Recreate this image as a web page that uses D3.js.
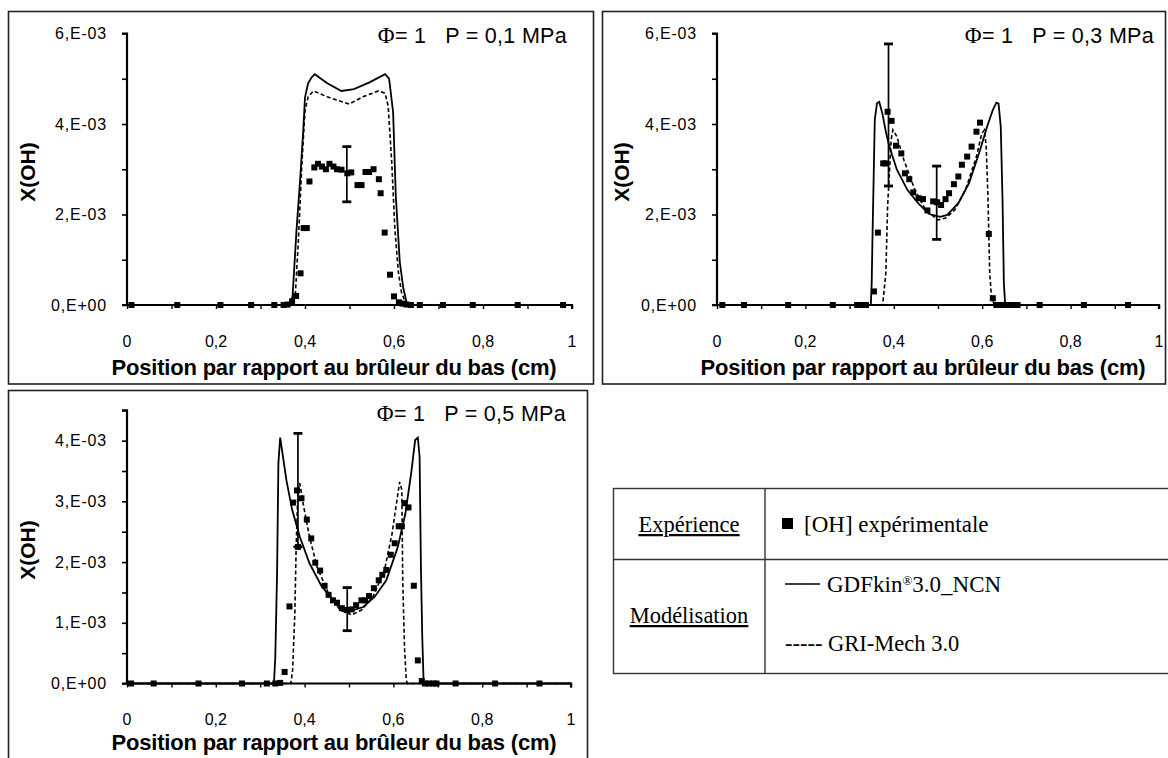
<!DOCTYPE html>
<html><head><meta charset="utf-8">
<script src="https://cdn.jsdelivr.net/npm/d3@7"></script>
<style>
body{margin:0;background:#fff;}
svg{display:block;}
text{font-family:"Liberation Sans",Arial,sans-serif;fill:#000;}
</style></head><body>
<svg id="c" width="1168" height="758"></svg>
<script>
// ---------- tick labels ----------
const xTickVals = [0,0.2,0.4,0.6,0.8,1];
const xTickLabels = ["0","0,2","0,4","0,6","0,8","1"];
const yTickValsA = [0,0.002,0.004,0.006];
const yTickLabelsA = ["0,E+00","2,E-03","4,E-03","6,E-03"];
const yTickValsB = [0,0.001,0.002,0.003,0.004];
const yTickLabelsB = ["0,E+00","1,E-03","2,E-03","3,E-03","4,E-03"];
const panelTitles = ["P = 0,1 MPa","P = 0,3 MPa","P = 0,5 MPa"];

// ---------- P = 0,1 MPa ----------
const exp01 = [[0.01,0],[0.113,0],[0.21,0],[0.279,0],[0.331,0],[0.352,0],[0.361,0.00001],[0.371,0.00008],[0.38,0.0002],[0.39,0.0007],[0.397,0.0017],[0.404,0.0017],[0.41,0.00273],[0.421,0.00304],[0.429,0.00312],[0.438,0.00306],[0.447,0.003],[0.455,0.00312],[0.464,0.00306],[0.472,0.003],[0.482,0.00299],[0.495,0.00291],[0.504,0.00293],[0.518,0.00265],[0.527,0.00265],[0.536,0.00294],[0.544,0.00294],[0.554,0.003],[0.566,0.00278],[0.57,0.00247],[0.579,0.0016],[0.591,0.00067],[0.6,0.00019],[0.611,0.00006],[0.619,0.00003],[0.628,0.00001],[0.638,0],[0.658,0],[0.71,0],[0.777,0],[0.878,0],[0.98,0]];
const gdf01 = [[0,0],[0.36,0],[0.366,0.00005],[0.372,0.00018],[0.381,0.00167],[0.389,0.00276],[0.396,0.00385],[0.4,0.00459],[0.407,0.0049],[0.415,0.00503],[0.422,0.0051],[0.45,0.0049],[0.482,0.00473],[0.51,0.00477],[0.545,0.00492],[0.58,0.0051],[0.589,0.005],[0.598,0.00426],[0.604,0.00242],[0.613,0.00095],[0.621,0.00037],[0.628,0.00007],[0.634,0],[1,0]];
const gri01 = [[0,0],[0.37,0],[0.378,0.00018],[0.385,0.0014],[0.393,0.00312],[0.4,0.0043],[0.407,0.0046],[0.419,0.00473],[0.45,0.0046],[0.499,0.00444],[0.53,0.0046],[0.565,0.00473],[0.58,0.00468],[0.587,0.00439],[0.595,0.00314],[0.602,0.00167],[0.61,0.00071],[0.617,0.00027],[0.625,0.00008],[0.632,0],[1,0]];
const err01 = [[0.494,0.00228,0.0035]];

// ---------- P = 0,3 MPa ----------
const exp03 = [[0.012,0],[0.061,0],[0.161,0],[0.262,0],[0.317,0],[0.327,0],[0.337,0],[0.355,0.0003],[0.364,0.0016],[0.376,0.00313],[0.382,0.00313],[0.386,0.00427],[0.395,0.00407],[0.405,0.00352],[0.417,0.00335],[0.425,0.00291],[0.435,0.00278],[0.444,0.00249],[0.456,0.00236],[0.466,0.00234],[0.476,0.00209],[0.489,0.00229],[0.498,0.00227],[0.507,0.00221],[0.517,0.00234],[0.525,0.00247],[0.536,0.00267],[0.546,0.00284],[0.554,0.0031],[0.566,0.00328],[0.576,0.0035],[0.587,0.00383],[0.595,0.00403],[0.615,0.00157],[0.624,0.00015],[0.632,0],[0.64,0],[0.648,0],[0.656,0],[0.665,0],[0.672,0],[0.68,0],[0.73,0],[0.83,0],[0.93,0]];
const gdf03 = [[0,0],[0.348,0],[0.35,0.00049],[0.352,0.0016],[0.354,0.0026],[0.357,0.0041],[0.362,0.00446],[0.367,0.00449],[0.374,0.00424],[0.382,0.00383],[0.39,0.0035],[0.407,0.00299],[0.431,0.00254],[0.456,0.00224],[0.48,0.00201],[0.505,0.00195],[0.521,0.00199],[0.546,0.00225],[0.57,0.00269],[0.595,0.00342],[0.611,0.00394],[0.624,0.00431],[0.632,0.00447],[0.637,0.00445],[0.642,0.00394],[0.646,0.00232],[0.649,0.00049],[0.652,0],[1,0]];
const gri03 = [[0,0],[0.374,0],[0.376,0.00012],[0.382,0.0007],[0.386,0.00218],[0.39,0.00291],[0.394,0.00365],[0.398,0.00387],[0.407,0.00372],[0.423,0.0032],[0.448,0.00254],[0.472,0.0021],[0.5,0.00188],[0.517,0.00192],[0.538,0.0021],[0.562,0.00254],[0.587,0.00328],[0.599,0.00379],[0.605,0.00387],[0.609,0.0035],[0.613,0.0024],[0.617,0.0007],[0.621,0.00019],[0.626,0.00004],[0.629,0],[1,0]];
const err03 = [[0.388,0.00263,0.00577],[0.497,0.00145,0.00307]];

// ---------- P = 0,5 MPa ----------
const exp05 = [[0.009,0],[0.06,0],[0.161,0],[0.259,0],[0.315,0],[0.334,0],[0.345,0.00001],[0.355,0.00019],[0.366,0.00127],[0.374,0.00298],[0.383,0.00318],[0.385,0.00225],[0.393,0.00305],[0.405,0.0027],[0.415,0.00239],[0.424,0.00199],[0.435,0.00186],[0.445,0.00161],[0.454,0.00146],[0.464,0.00137],[0.473,0.00133],[0.484,0.00124],[0.496,0.00121],[0.506,0.00122],[0.516,0.00129],[0.528,0.00137],[0.536,0.00137],[0.545,0.00144],[0.556,0.00157],[0.567,0.0017],[0.575,0.00179],[0.584,0.00187],[0.594,0.00212],[0.603,0.00231],[0.612,0.00259],[0.619,0.00259],[0.625,0.00297],[0.634,0.0029],[0.646,0.00161],[0.655,0.00038],[0.664,0.00004],[0.671,0],[0.68,0],[0.69,0],[0.697,0],[0.74,0],[0.829,0],[0.929,0]];
const gdf05 = [[0,0],[0.331,0],[0.334,0.00044],[0.338,0.00181],[0.341,0.00363],[0.345,0.00405],[0.348,0.0039],[0.359,0.00335],[0.372,0.00286],[0.389,0.00242],[0.411,0.00198],[0.437,0.00162],[0.463,0.00137],[0.489,0.00122],[0.506,0.0012],[0.532,0.00126],[0.558,0.00143],[0.584,0.0017],[0.61,0.00225],[0.627,0.0028],[0.64,0.00346],[0.649,0.00401],[0.655,0.00405],[0.659,0.00374],[0.662,0.00192],[0.665,0.00077],[0.668,0.00003],[0.67,0],[1,0]];
const gri05 = [[0,0],[0.369,0],[0.373,0.00022],[0.378,0.00115],[0.381,0.00225],[0.385,0.00319],[0.389,0.0033],[0.398,0.00291],[0.411,0.00242],[0.428,0.00192],[0.454,0.00148],[0.48,0.00121],[0.506,0.00113],[0.528,0.00121],[0.554,0.00143],[0.58,0.00187],[0.597,0.00247],[0.608,0.00302],[0.614,0.00332],[0.619,0.00319],[0.621,0.0017],[0.625,0.0006],[0.629,0.00005],[0.632,0],[1,0]];
const err05 = [[0.385,0.00225,0.00412],[0.496,0.00087,0.00158]];

// ---------- legend ----------
const legendHeads = ["Expérience","Modélisation"];
const legendItems = ["[OH] expérimentale","GDFkin","3.0_NCN","GRI-Mech 3.0"];

const svg = d3.select("#c");

// panel frames
const frames = [[8.5,11.5,585,372.5],[602.5,11.5,563,372.5],[8.5,390.5,579,380]];
svg.selectAll("rect.frame").data(frames).join("rect")
  .attr("x",d=>d[0]).attr("y",d=>d[1]).attr("width",d=>d[2]).attr("height",d=>d[3])
  .attr("fill","none").attr("stroke","#222").attr("stroke-width",1.6);

const panels = [
  {exp:exp01,gdf:gdf01,gri:gri01,err:err01,xr:[127,572],yr:[305,33.5],ymax:0.006,yT:yTickValsA,yL:yTickLabelsA,minor:0.001,title:panelTitles[0],ytitle:[28,172],xt:[334,375],cl:43},
  {exp:exp03,gdf:gdf03,gri:gri03,err:err03,xr:[717,1159],yr:[305,33.5],ymax:0.006,yT:yTickValsA,yL:yTickLabelsA,minor:0.001,title:panelTitles[1],ytitle:[622,172],xt:[923,375],cl:43},
  {exp:exp05,gdf:gdf05,gri:gri05,err:err05,xr:[127,571],yr:[683.5,410.3],ymax:0.0045,yT:yTickValsB,yL:yTickLabelsB,minor:0.0005,title:panelTitles[2],ytitle:[28,550],xt:[334,750],cl:421}
];

panels.forEach(p=>{
  const x = d3.scaleLinear().domain([0,1]).range(p.xr);
  const y = d3.scaleLinear().domain([0,p.ymax]).range(p.yr);
  const g = svg.append("g");

  // y axis (minor ticks every p.minor, labels on p.yT)
  const minorVals = d3.range(0,p.ymax+1e-9,p.minor);
  g.append("g").attr("transform",`translate(${p.xr[0]},0)`)
    .call(d3.axisLeft(y).tickValues(minorVals).tickSize(5).tickFormat(""))
    .call(a=>{a.select(".domain").attr("stroke-width",2.2).attr("d",`M-5,${p.yr[1]}H0V${p.yr[0]}`);a.selectAll("line").attr("stroke-width",1.6);});
  g.selectAll("text.yl").data(p.yT).join("text")
    .attr("x",p.xr[0]-20).attr("y",d=>y(d)+5.5).attr("text-anchor","end")
    .style("font-size","16px").style("letter-spacing","0.8px").text((d,i)=>p.yL[i]);

  // x axis
  g.append("g").attr("transform",`translate(0,${p.yr[0]})`)
    .call(d3.axisBottom(x).tickValues(d3.range(0,1.0001,0.1)).tickSize(4).tickFormat(""))
    .call(a=>{a.select(".domain").attr("stroke-width",2.2).attr("d",`M${p.xr[0]-5},0H${p.xr[1]}V4`);a.selectAll("line").attr("stroke-width",1.4);});
  g.selectAll("text.xl").data(xTickVals).join("text")
    .attr("x",d=>x(d)).attr("y",p.yr[0]+41.5).attr("text-anchor","middle")
    .style("font-size","16px").text((d,i)=>xTickLabels[i]);

  // titles
  g.append("text").attr("x",p.xt[0]).attr("y",p.xt[1]).attr("text-anchor","middle")
    .style("font-size","22px").style("font-weight","bold").style("letter-spacing","-0.2px")
    .text("Position par rapport au brûleur du bas (cm)");
  g.append("text").attr("transform",`translate(${p.ytitle[0]+7},${p.ytitle[1]}) rotate(-90)`)
    .attr("text-anchor","middle").style("font-size","21px").style("font-weight","bold").text("X(OH)");

  // condition label
  const t = g.append("text").attr("x",p.xr[1]-5).attr("y",p.cl).attr("text-anchor","end")
    .style("font-size","21.5px").style("letter-spacing","0.3px").attr("xml:space","preserve").style("white-space","pre");
  t.append("tspan").style("font-family","'Liberation Serif',serif").style("font-size","23px").text("Φ");
  t.append("tspan").text("= 1   "+p.title);

  // model curves
  const line = d3.line().x(d=>x(d[0])).y(d=>y(d[1]));
  g.append("path").attr("d",line(p.gdf)).attr("fill","none").attr("stroke","#000").attr("stroke-width",1.8);
  g.append("path").attr("d",line(p.gri)).attr("fill","none").attr("stroke","#000").attr("stroke-width",1.6).attr("stroke-dasharray","4,2.5");

  // error bars
  p.err.forEach(e=>{
    g.append("line").attr("x1",x(e[0])).attr("x2",x(e[0])).attr("y1",y(e[1])).attr("y2",y(e[2])).attr("stroke","#000").attr("stroke-width",1.7);
    [e[1],e[2]].forEach(v=>g.append("line").attr("x1",x(e[0])-4.5).attr("x2",x(e[0])+4.5).attr("y1",y(v)).attr("y2",y(v)).attr("stroke","#000").attr("stroke-width",2.8));
  });

  // experimental points
  g.selectAll("rect.pt").data(p.exp).join("rect")
    .attr("x",d=>x(d[0])-3).attr("y",d=>y(d[1])-3).attr("width",6).attr("height",6).attr("fill","#000");
});

// ---------- legend table ----------
const L = svg.append("g");
L.append("rect").attr("x",613.5).attr("y",488.5).attr("width",580).attr("height",185).attr("fill","none").attr("stroke","#333").attr("stroke-width",1.4);
L.append("line").attr("x1",765).attr("x2",765).attr("y1",488.5).attr("y2",673.5).attr("stroke","#333").attr("stroke-width",1.4);
L.append("line").attr("x1",613.5).attr("x2",1168).attr("y1",559.5).attr("y2",559.5).attr("stroke","#333").attr("stroke-width",1.4);
const sf = "'Liberation Serif','Times New Roman',serif";
L.append("text").attr("x",689).attr("y",532).attr("text-anchor","middle").style("font-family",sf).style("font-size","22.5px").style("text-decoration","underline").text(legendHeads[0]);
L.append("text").attr("x",689).attr("y",623).attr("text-anchor","middle").style("font-family",sf).style("font-size","22.5px").style("text-decoration","underline").text(legendHeads[1]);
L.append("rect").attr("x",782).attr("y",518).attr("width",11).attr("height",11).attr("fill","#000");
L.append("text").attr("x",804).attr("y",532).style("font-family",sf).style("font-size","23px").text(legendItems[0]);
L.append("line").attr("x1",785).attr("x2",820).attr("y1",584).attr("y2",584).attr("stroke","#000").attr("stroke-width",1.5);
const gt = L.append("text").attr("x",827).attr("y",592).style("font-family",sf).style("font-size","23px");
gt.append("tspan").text(legendItems[1]);
gt.append("tspan").attr("dy",-7).style("font-size","13px").text("®");
gt.append("tspan").attr("dy",7).text(legendItems[2]);
L.append("text").attr("x",785).attr("y",651).style("font-family",sf).style("font-size","22.5px").text("----- "+legendItems[3]);
</script>
</body></html>
